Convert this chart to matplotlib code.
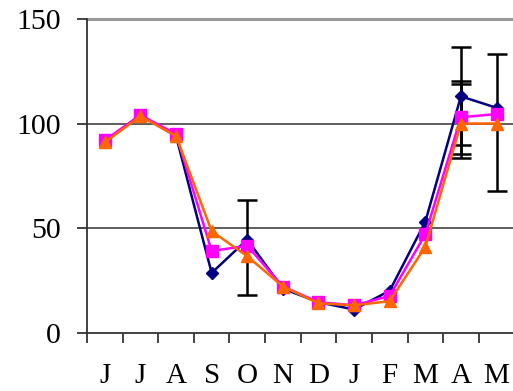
import matplotlib
matplotlib.use("Agg")
import matplotlib.pyplot as plt
import numpy as np

months = ["J", "J", "A", "S", "O", "N", "D", "J", "F", "M", "A", "M"]
series_blue = [91.5, 104, 94, 28.5, 44.5, 21, 14.5, 11, 20, 53, 113, 107.5]
series_pink = [92, 104, 95, 39, 41.5, 22, 14.5, 13, 17.5, 47, 103, 104.5]
series_orange = [91, 103.5, 94, 48.5, 36.5, 22, 14, 13, 15, 41, 100, 100]

# error bars: (month index, center, lower err, upper err)
err_idx = [4, 10, 10, 10, 11]
err_center = [41.0, 113, 103, 100, 100.5]
err_low = [23.0, 23.5, 17.5, 16.7, 32.7]
err_high = [22.5, 23.5, 17.3, 19.0, 32.7]

fig = plt.figure(figsize=(5.13, 3.91), dpi=100)
ax = fig.add_axes([0.1696, 0.1496, 0.833, 0.8018])

x = np.arange(len(months)) + 0.5

ax.errorbar(np.array(err_idx) + 0.5, err_center, yerr=[err_low, err_high],
            fmt="none", ecolor="black", elinewidth=1.8, capsize=7, capthick=1.8, zorder=2)

ax.plot(x, series_blue, color="#000080", marker="D", markersize=6, linewidth=1.8, zorder=3)
ax.plot(x, series_pink, color="#FF00FF", marker="s", markersize=8.5, linewidth=1.8, zorder=4)
ax.plot(x, series_orange, color="#FF6600", marker="^", markersize=8.5, linewidth=1.8, zorder=5)

ax.set_xlim(0, 12)
ax.set_ylim(0, 150)
ax.set_yticks([0, 50, 100, 150])
ax.set_xticks(np.arange(0, 13))
ax.set_xticklabels([])
ax.set_xticks(x, minor=True)
ax.set_xticklabels(months, minor=True, fontfamily="Liberation Serif", fontsize=21)
ax.tick_params(axis="x", which="minor", length=0, pad=22)
ax.tick_params(axis="x", which="major", direction="out", length=7, width=1.2, color="#222222")
ax.tick_params(axis="y", direction="out", length=7, width=1.2, color="#222222", pad=12)
for lab in ax.get_yticklabels():
    lab.set_fontfamily("Liberation Serif")
    lab.set_fontsize(21.5)

for yv in [50, 100]:
    ax.axhline(yv, color="#333333", linewidth=1.1, zorder=1)
ax.axhline(150, color="#999999", linewidth=2.2, zorder=1, clip_on=False)

for s in ["top", "right"]:
    ax.spines[s].set_visible(False)
ax.spines["left"].set_color("#333333")
ax.spines["left"].set_linewidth(1.3)
ax.spines["bottom"].set_color("#333333")
ax.spines["bottom"].set_linewidth(1.3)

fig.savefig("out.png", dpi=100)
